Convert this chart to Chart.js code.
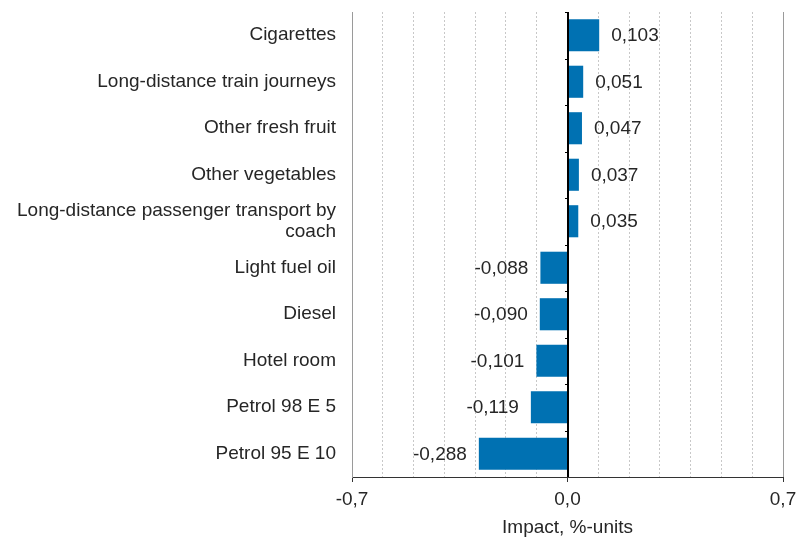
<!DOCTYPE html>
<html>
<head>
<meta charset="utf-8">
<script src="https://cdn.jsdelivr.net/npm/chart.js@4/dist/chart.umd.min.js"></script>
<style>
  html, body { margin: 0; padding: 0; background: #fff; }
  #wrap { width: 796px; height: 543px; position: relative; }
</style>
</head>
<body>
<div id="wrap"><canvas id="c"></canvas></div>
<script>
const categories = [
  'Cigarettes',
  'Long-distance train journeys',
  'Other fresh fruit',
  'Other vegetables',
  ['Long-distance passenger transport by', 'coach'],
  'Light fuel oil',
  'Diesel',
  'Hotel room',
  'Petrol 98 E 5',
  'Petrol 95 E 10'
];
const impactValues = [0.103, 0.051, 0.047, 0.037, 0.035, -0.088, -0.090, -0.101, -0.119, -0.288];
const xTickLabels = [-0.7, 0.0, 0.7];
const xAxisTitle = 'Impact, %-units';

const FONT = 'Liberation Sans, Arial, sans-serif';
const TEXT = '#262626';
const BAR = '#0071b2';

function fmt(v, digits) {
  const s = (Math.abs(v) < 1e-9 ? 0 : v).toFixed(digits).replace('.', ',');
  return s;
}
function isLabeled(v) {
  return xTickLabels.some(t => Math.abs(t - v) < 1e-6);
}

const valueLabels = {
  id: 'valueLabels',
  afterDatasetsDraw(chart) {
    const ctx = chart.ctx;
    const meta = chart.getDatasetMeta(0);
    ctx.save();
    ctx.font = '19px ' + FONT;
    ctx.fillStyle = TEXT;
    ctx.textBaseline = 'middle';
    meta.data.forEach((el, i) => {
      const v = impactValues[i];
      if (v >= 0) {
        ctx.textAlign = 'left';
        ctx.fillText(fmt(v, 3), el.x + 12, el.y + 1);
      } else {
        ctx.textAlign = 'right';
        ctx.fillText(fmt(v, 3), el.x - 12, el.y + 1);
      }
    });
    ctx.restore();
  }
};

const zeroTicks = {
  id: 'zeroTicks',
  afterDatasetsDraw(chart) {
    const ctx = chart.ctx;
    const xs = chart.scales.x, ys = chart.scales.y;
    const x0 = xs.getPixelForValue(0);
    ctx.save();
    ctx.strokeStyle = '#000';
    ctx.lineWidth = 1;
    ctx.beginPath();
    ctx.moveTo(Math.round(x0) + 0.5, chart.chartArea.top);
    ctx.lineTo(Math.round(x0) + 0.5, chart.chartArea.bottom);
    for (let i = 0; i < categories.length; i++) {
      const y = Math.round(ys.getPixelForValue(i - 0.5)) + 0.5;
      ctx.moveTo(Math.round(x0) - 3, y);
      ctx.lineTo(Math.round(x0) + 0.5, y);
    }
    ctx.stroke();
    ctx.restore();
  }
};

new Chart(document.getElementById('c'), {
  type: 'bar',
  data: {
    labels: categories,
    datasets: [{
      data: impactValues,
      backgroundColor: BAR,
      borderWidth: 0,
      barPercentage: 0.69,
      categoryPercentage: 1.0
    }]
  },
  options: {
    indexAxis: 'y',
    responsive: true,
    maintainAspectRatio: false,
    animation: false,
    layout: { padding: { top: 12, right: 13, left: 0, bottom: 0 } },
    plugins: { legend: { display: false }, tooltip: { enabled: false } },
    scales: {
      x: {
        type: 'linear',
        min: -0.7,
        max: 0.7,
        afterFit(scale) { scale.height = 66; scale.paddingRight = 0; scale.paddingLeft = 0; },
        ticks: {
          stepSize: 0.1,
          autoSkip: false,
          maxRotation: 0,
          padding: 6,
          color: TEXT,
          font: { family: FONT, size: 19 },
          callback: (v) => isLabeled(v) ? fmt(v, 1) : ''
        },
        grid: {
          drawOnChartArea: true,
          tickLength: 5,
          color: (c) => {
            if (!c.tick) return '#ccc';
            const v = c.tick.value;
            if (Math.abs(v) < 1e-6) return '#000';
            if (Math.abs(Math.abs(v) - 0.7) < 1e-6) return '#9a9a9a';
            return '#c8c8c8';
          },
          tickColor: (c) => (c.tick && isLabeled(c.tick.value)) ? '#333' : 'rgba(0,0,0,0)'
        },
        border: {
          display: true,
          color: '#333',
          width: 1,
          dash: (c) => {
            if (!c.tick) return [];
            return isLabeled(c.tick.value) ? [] : [2, 2];
          }
        },
        title: {
          display: true,
          text: xAxisTitle,
          color: TEXT,
          font: { family: FONT, size: 19 },
          padding: { top: 0, bottom: 4 }
        }
      },
      y: {
        afterFit(scale) { scale.width = 352; scale.paddingTop = 0; scale.paddingBottom = 0; },
        ticks: {
          padding: 16,
          color: TEXT,
          autoSkip: false,
          font: { family: FONT, size: 19, lineHeight: 1.08 }
        },
        grid: { display: false, drawTicks: false },
        border: { display: true, color: '#9a9a9a', width: 1 }
      }
    }
  },
  plugins: [valueLabels, zeroTicks]
});
</script>
</body>
</html>
